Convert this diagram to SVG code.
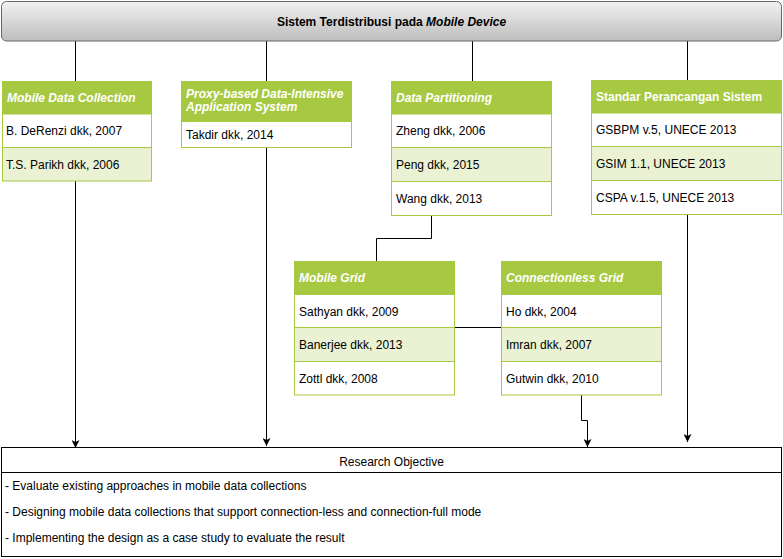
<svg xmlns="http://www.w3.org/2000/svg" width="783" height="559" viewBox="0 0 783 559">
<defs>
<linearGradient id="g" x1="0" y1="0" x2="0" y2="1">
<stop offset="0" stop-color="#f2f2f2"/>
<stop offset="1" stop-color="#bdbdbd"/>
</linearGradient>
<marker id="ah" viewBox="0 0 10 10" refX="10" refY="5" markerWidth="8" markerHeight="8" markerUnits="userSpaceOnUse" orient="auto">
<path d="M0,0 L10,5 L0,10 L2.5,5 Z" fill="#000"/>
</marker>
</defs>
<style>
text{font-family:"Liberation Sans",Arial,sans-serif;fill:#000}
.hd{fill:#a7c942;stroke:#a7c942;stroke-width:1}
.rw{fill:#fff;stroke:#a7c942;stroke-width:1}
.alt{fill:#eaf2d3;stroke:#a7c942;stroke-width:1}
.ht{font-size:12px;font-weight:bold;font-style:italic;fill:#fff}
.hn{font-size:12px;font-weight:bold;fill:#fff}
.rt{font-size:12px}
.ln{fill:none;stroke:#000;stroke-width:1}
.ot{font-size:12px}
</style>

<g id="connectors">
<path class="ln" d="M75.5,41 V81"/>
<path class="ln" d="M266.5,41 V81"/>
<path class="ln" d="M472.5,41 V81"/>
<path class="ln" d="M687.5,41 V80"/>
<path class="ln" d="M75.5,181 V448" marker-end="url(#ah)"/>
<path class="ln" d="M266.5,147 V446" marker-end="url(#ah)"/>
<path class="ln" d="M687.5,214 V442" marker-end="url(#ah)"/>
<path class="ln" d="M431.5,215 V238.5 H376.5 V262"/>
<path class="ln" d="M454,327.5 H502"/>
<path class="ln" d="M581.5,395 V420.5 H587.5 V447" marker-end="url(#ah)"/>
</g>

<g id="top">
<rect x="1.5" y="1.5" width="780" height="39.5" rx="5" fill="url(#g)" stroke="#666"/>
<text x="391.5" y="25.5" text-anchor="middle" font-size="12px" font-weight="bold">Sistem Terdistribusi pada <tspan font-style="italic">Mobile Device</tspan></text>
</g>

<g id="mdc">
<rect class="hd" x="2.5" y="81.5" width="149" height="32.5"/>
<rect class="rw" x="2.5" y="114" width="149" height="33.5"/>
<rect class="alt" x="2.5" y="147.5" width="149" height="33.5"/>
<text class="ht" x="7" y="102">Mobile Data Collection</text>
<text class="rt" x="6" y="135">B. DeRenzi dkk, 2007</text>
<text class="rt" x="6" y="168.5">T.S. Parikh dkk, 2006</text>
</g>

<g id="proxy">
<rect class="hd" x="181.5" y="81.5" width="170" height="40"/>
<rect class="rw" x="181.5" y="121.5" width="170" height="26"/>
<text class="ht" x="186" y="98">Proxy-based Data-Intensive</text>
<text class="ht" x="186" y="111">Application System</text>
<text class="rt" x="186" y="138.5">Takdir dkk, 2014</text>
</g>

<g id="dp">
<rect class="hd" x="391.5" y="81.5" width="160" height="32.5"/>
<rect class="rw" x="391.5" y="114" width="160" height="33.5"/>
<rect class="alt" x="391.5" y="147.5" width="160" height="34"/>
<rect class="rw" x="391.5" y="181.5" width="160" height="34"/>
<text class="ht" x="396" y="102">Data Partitioning</text>
<text class="rt" x="396" y="135">Zheng dkk, 2006</text>
<text class="rt" x="396" y="168.5">Peng dkk, 2015</text>
<text class="rt" x="396" y="202.5">Wang dkk, 2013</text>
</g>

<g id="std">
<rect class="hd" x="591.5" y="80.5" width="190" height="32.5"/>
<rect class="rw" x="591.5" y="113" width="190" height="33.5"/>
<rect class="alt" x="591.5" y="146.5" width="190" height="34"/>
<rect class="rw" x="591.5" y="180.5" width="190" height="34"/>
<text class="hn" x="596" y="101">Standar Perancangan Sistem</text>
<text class="rt" x="596" y="134">GSBPM v.5, UNECE 2013</text>
<text class="rt" x="596" y="167.5">GSIM 1.1, UNECE 2013</text>
<text class="rt" x="596" y="201.5">CSPA v.1.5, UNECE 2013</text>
</g>

<g id="mg">
<rect class="hd" x="294.5" y="261.5" width="160" height="33"/>
<rect class="rw" x="294.5" y="294.5" width="160" height="33"/>
<rect class="alt" x="294.5" y="327.5" width="160" height="34"/>
<rect class="rw" x="294.5" y="361.5" width="160" height="33.5"/>
<text class="ht" x="299" y="282">Mobile Grid</text>
<text class="rt" x="299" y="315.5">Sathyan dkk, 2009</text>
<text class="rt" x="299" y="348.5">Banerjee dkk, 2013</text>
<text class="rt" x="299" y="382.5">Zottl dkk, 2008</text>
</g>

<g id="cg">
<rect class="hd" x="501.5" y="261.5" width="160" height="33"/>
<rect class="rw" x="501.5" y="294.5" width="160" height="33"/>
<rect class="alt" x="501.5" y="327.5" width="160" height="34"/>
<rect class="rw" x="501.5" y="361.5" width="160" height="33.5"/>
<text class="ht" x="506" y="282">Connectionless Grid</text>
<text class="rt" x="506" y="315.5">Ho dkk, 2004</text>
<text class="rt" x="506" y="348.5">Imran dkk, 2007</text>
<text class="rt" x="506" y="382.5">Gutwin dkk, 2010</text>
</g>

<g id="ro">
<rect x="1.5" y="447.5" width="780" height="109" fill="#fff" stroke="#000"/>
<line x1="1.5" y1="472.5" x2="781.5" y2="472.5" stroke="#000"/>
<text class="ot" x="391.5" y="466" text-anchor="middle">Research Objective</text>
<text class="ot" x="5" y="489.5">- Evaluate existing approaches in mobile data collections</text>
<text class="ot" x="5" y="515.5">- Designing mobile data collections that support connection-less and connection-full mode</text>
<text class="ot" x="5" y="541.5">- Implementing the design as a case study to evaluate the result</text>
</g>
</svg>
